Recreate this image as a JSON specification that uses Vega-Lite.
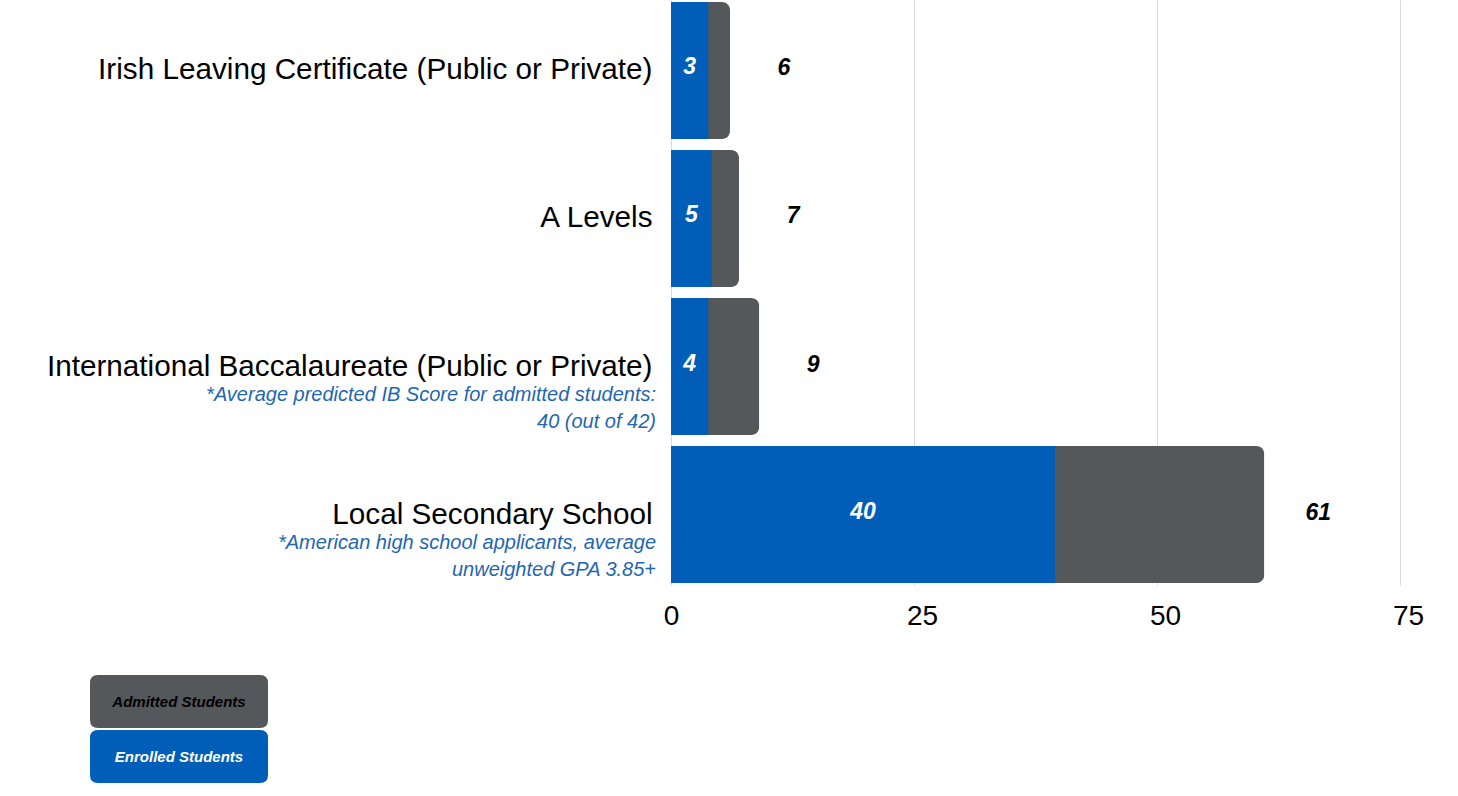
{
  "$schema": "https://vega.github.io/schema/vega-lite/v6.json",
  "autosize": {"type": "none"},
  "width": 729,
  "height": 585,
  "padding": {"left": 671, "top": 0, "right": 58, "bottom": 211},
  "background": "white",
  "config": {
    "view": {"stroke": null},
    "font": "Liberation Sans"
  },
  "data": {
    "values": [
      {"category": "Irish Leaving Certificate (Public or Private)", "admitted": 6.07, "enrolled_bar": 3.84, "enrolled": 3, "note": ""},
      {"category": "A Levels", "admitted": 7.0, "enrolled_bar": 4.19, "enrolled": 5, "note": ""},
      {"category": "International Baccalaureate (Public or Private)", "admitted": 9.08, "enrolled_bar": 3.84, "enrolled": 4, "note": ["*Average predicted IB Score for admitted students:", "40 (out of 42)"]},
      {"category": "Local Secondary School", "admitted": 61.04, "enrolled_bar": 39.5, "enrolled": 40, "note": ["*American high school applicants, average", "unweighted GPA 3.85+"]}
    ]
  },
  "encoding": {
    "y": {
      "field": "category",
      "type": "nominal",
      "sort": null,
      "scale": {"paddingInner": 0.075, "paddingOuter": 0.0135},
      "axis": {
        "title": null,
        "domain": false,
        "ticks": false,
        "labelFontSize": 29.7,
        "labelColor": "#000000",
        "labelPadding": 19,
        "labelLimit": 1000
      }
    }
  },
  "layer": [
    {
      "mark": {"type": "bar", "cornerRadiusEnd": 8},
      "encoding": {
        "x": {
          "field": "admitted",
          "type": "quantitative",
          "scale": {"domain": [0, 75], "nice": false},
          "axis": {
            "title": null,
            "values": [0, 25, 50, 75],
            "domain": false,
            "ticks": false,
            "grid": true,
            "gridColor": "#d9d9d9",
            "gridWidth": 1,
            "labelFlush": false,
            "labelFontSize": 28,
            "labelColor": "#000000",
            "labelPadding": 17,
            "labelOffset": {"condition": {"test": "datum.value === 0", "value": 0}, "value": 8}
          }
        },
        "color": {
          "datum": "Admitted Students",
          "type": "nominal",
          "scale": {"domain": ["Admitted Students", "Enrolled Students"], "range": ["#54585a", "#005eb8"]},
          "legend": {
            "orient": "none",
            "legendX": -581,
            "legendY": 675,
            "title": null,
            "padding": 0,
            "symbolType": "M-0.91,-1L0.91,-1Q1,-1 1,-0.91L1,-0.4945Q1,-0.4045 0.91,-0.4045L-0.91,-0.4045Q-1,-0.4045 -1,-0.4945L-1,-0.91Q-1,-1 -0.91,-1Z",
            "symbolSize": 31684,
            "symbolStrokeWidth": 0,
            "symbolOpacity": 1,
            "labelOffset": -89,
            "labelAlign": "center",
            "labelFontSize": 15,
            "labelFontStyle": "italic",
            "labelFontWeight": "bold",
            "rowPadding": 2,
            "encode": {
              "labels": {
                "update": {
                  "y": {"value": 26.5},
                  "fill": {"signal": "datum.value === 'Enrolled Students' ? '#ffffff' : '#000000'"}
                }
              }
            }
          }
        }
      }
    },
    {
      "mark": {"type": "bar"},
      "encoding": {
        "x": {"field": "enrolled_bar", "type": "quantitative"},
        "color": {"datum": "Enrolled Students", "type": "nominal"}
      }
    },
    {
      "mark": {"type": "text", "fontSize": 23, "fontStyle": "italic", "fontWeight": "bold", "color": "#ffffff", "align": "center", "baseline": "middle", "dy": -3},
      "encoding": {
        "x": {"field": "enrolled_bar", "type": "quantitative", "stack": "zero", "bandPosition": 0.5},
        "text": {"field": "enrolled", "type": "quantitative"}
      }
    },
    {
      "mark": {"type": "text", "fontSize": 23, "fontStyle": "italic", "fontWeight": "bold", "color": "#000000", "align": "center", "baseline": "middle", "dx": 54, "dy": -2},
      "encoding": {
        "x": {"field": "admitted", "type": "quantitative"},
        "text": {"field": "admitted", "type": "quantitative", "format": ".0f"}
      }
    },
    {
      "mark": {"type": "text", "fontSize": 20, "fontStyle": "italic", "color": "#1f66b3", "align": "right", "baseline": "top", "dx": -15, "dy": 18, "lineHeight": 27},
      "encoding": {
        "x": {"datum": 0, "type": "quantitative"},
        "text": {"field": "note"}
      }
    }
  ]
}
